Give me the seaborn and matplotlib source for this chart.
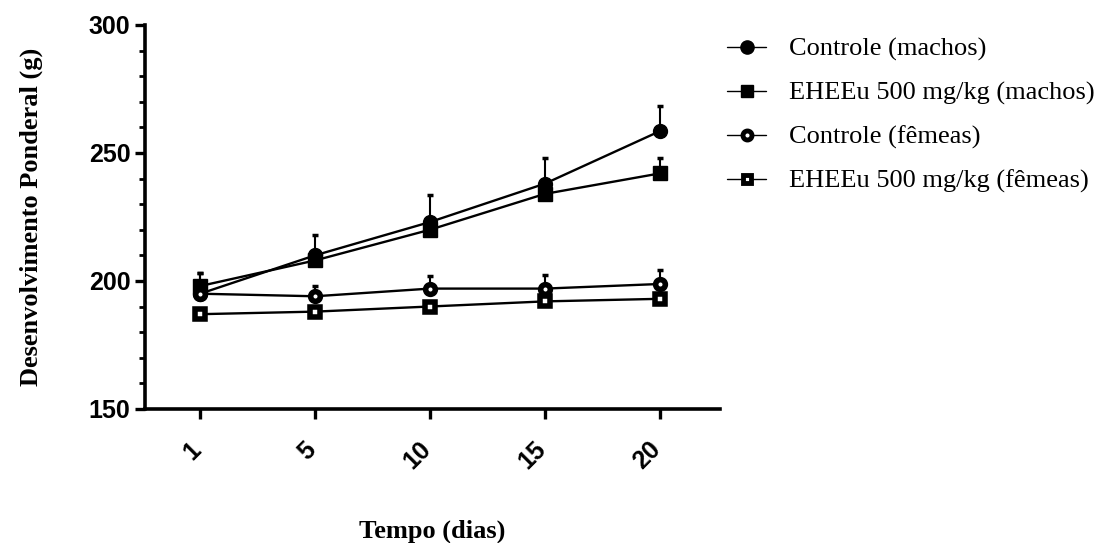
import numpy as np
import pandas as pd
import matplotlib
matplotlib.use("Agg")
import matplotlib.pyplot as plt
import matplotlib.transforms as mtransforms
from matplotlib.ticker import MultipleLocator
from matplotlib.lines import Line2D
import seaborn as sns

days = ["1", "5", "10", "15", "20"]
series_names = ["Controle (machos)", "EHEEu 500 mg/kg (machos)",
                "Controle (fêmeas)", "EHEEu 500 mg/kg (fêmeas)"]
ctrl_m = [195, 210, 223, 238, 258.5]
ctrl_m_sem = [8, 8, 10.5, 10, 10]
eheeu_m = [198, 208, 220, 234, 242]
eheeu_m_sem = [5, 4, 4, 3, 6]
ctrl_f = [195, 194, 197, 197, 198.8]
ctrl_f_sem = [2, 4, 5, 5.5, 5.5]
eheeu_f = [187, 188, 190, 192, 193]
eheeu_f_sem = [1.5, 1.5, 1.5, 1.5, 1.5]

values = [ctrl_m, eheeu_m, ctrl_f, eheeu_f]
sems = [ctrl_m_sem, eheeu_m_sem, ctrl_f_sem, eheeu_f_sem]

rows = []
for name, vals in zip(series_names, values):
    for i, v in enumerate(vals):
        rows.append({"pos": i, "dia": days[i], "serie": name, "peso": v})
df = pd.DataFrame(rows)

sns.set_style("ticks")
plt.rcParams.update({"text.color": "black", "axes.labelcolor": "black",
                     "xtick.color": "black", "ytick.color": "black"})
fig = plt.figure(figsize=(11.07, 5.43), dpi=100)
ax = fig.add_axes([0.131, 0.247, 0.519, 0.707])

marker_styles = {
    series_names[0]: dict(marker="o", mfc="black", ms=10, mew=1),
    series_names[1]: dict(marker="s", mfc="black", ms=9.5, mew=1),
    series_names[2]: dict(marker="o", mfc="white", ms=7, mew=4),
    series_names[3]: dict(marker="s", mfc="white", ms=6.5, mew=4),
}

handles = []
for name, vals, err in zip(series_names, values, sems):
    st = marker_styles[name]
    sub = df[df["serie"] == name]
    x = sub["pos"].to_numpy()
    y = sub["peso"].to_numpy()
    ax.errorbar(x, y, yerr=[np.zeros(len(err)), err], fmt="none",
                ecolor="black", elinewidth=1.5, capsize=2.5, capthick=2.5, zorder=2)
    sns.lineplot(data=sub, x="pos", y="peso", ax=ax, color="black",
                 linewidth=1.7, marker=st["marker"], markersize=st["ms"],
                 markerfacecolor=st["mfc"], markeredgecolor="black",
                 markeredgewidth=st["mew"], legend=False, zorder=3)
    handles.append(Line2D([0], [0], color="black", linewidth=1.0,
                          marker=st["marker"], markersize=st["ms"] - 0.5,
                          markerfacecolor=st["mfc"], markeredgecolor="black",
                          markeredgewidth=st["mew"] - 0.5 if st["mfc"] == "white" else 1))

ax.set_xlim(-0.48, 4.52)
ax.set_ylim(150, 300)
ax.set_xticks(range(len(days)))
ax.set_xticklabels(days)
ax.set_yticks([150, 200, 250, 300])
ax.yaxis.set_minor_locator(MultipleLocator(10))

sns.despine(ax=ax)
for s in ["left", "bottom"]:
    ax.spines[s].set_linewidth(2.6)
    ax.spines[s].set_color("black")

ax.tick_params(axis="both", which="major", direction="out", length=7, width=2.4,
               color="black", labelsize=18)
ax.tick_params(axis="x", which="major", pad=13.5)
ax.tick_params(axis="y", which="minor", direction="out", length=4, width=2, color="black")
for lab in ax.get_yticklabels():
    lab.set_fontfamily("Liberation Sans")
    lab.set_fontweight("bold")
shift = mtransforms.ScaledTranslation(4.3 / 72, 0, fig.dpi_scale_trans)
for lab in ax.get_xticklabels():
    lab.set_fontfamily("Liberation Sans")
    lab.set_fontweight("bold")
    lab.set_rotation(45)
    lab.set_ha("right")
    lab.set_va("top")
    lab.set_transform(lab.get_transform() + shift)

ax.set_xlabel("Tempo (dias)", fontfamily="Liberation Serif", fontweight="bold",
              fontsize=19, labelpad=33)
ax.set_ylabel("Desenvolvimento Ponderal (g)", fontfamily="Liberation Serif",
              fontweight="bold", fontsize=19, labelpad=33)

fig.legend(handles, series_names, loc="upper left", bbox_to_anchor=(0.647, 0.9505),
           borderaxespad=0, frameon=False, handlelength=1.5, labelspacing=0.76,
           handletextpad=0.87, prop={"family": "Liberation Serif", "size": 19})

fig.savefig("out.png", dpi=100)
